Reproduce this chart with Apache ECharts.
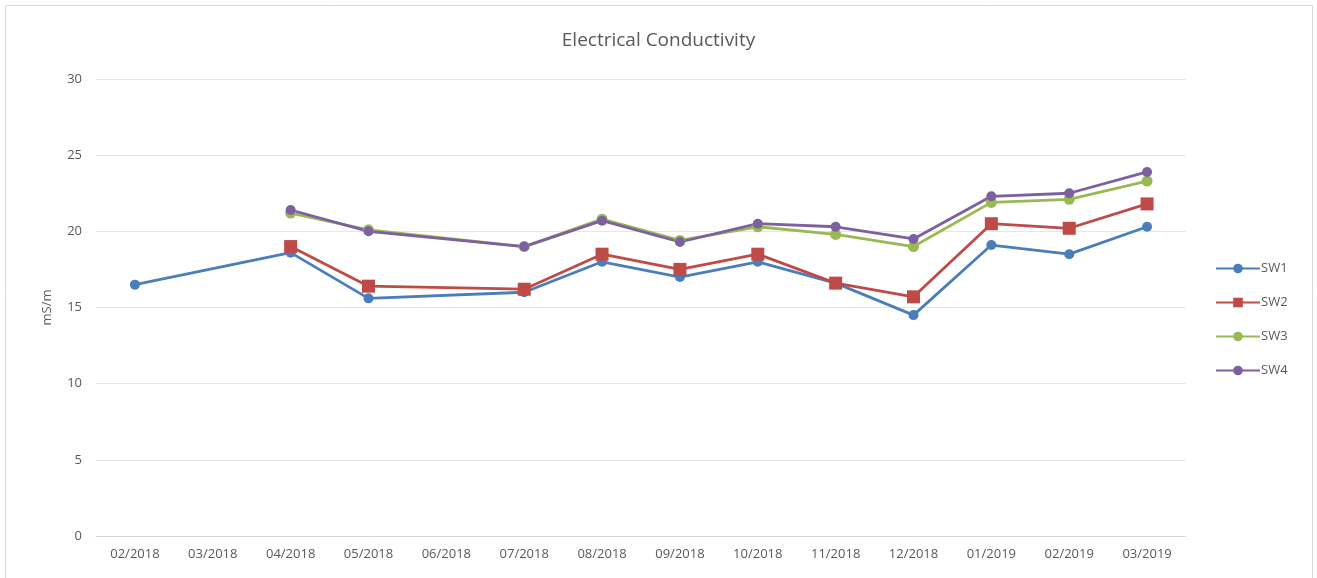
<!DOCTYPE html>
<html>
<head>
<meta charset="utf-8">
<script src="https://cdn.jsdelivr.net/npm/echarts@6/dist/echarts.min.js"></script>
<style>
html,body{margin:0;padding:0;background:#fff;}
#c{width:1317px;height:578px;}
</style>
</head>
<body>
<div id="c"></div>
<script>
const categories = ['02/2018','03/2018','04/2018','05/2018','06/2018','07/2018','08/2018','09/2018','10/2018','11/2018','12/2018','01/2019','02/2019','03/2019'];
const sw1 = [16.5, null, 18.6, 15.6, null, 16.0, 18.0, 17.0, 18.0, 16.6, 14.5, 19.1, 18.5, 20.3];
const sw2 = [null, null, 19.0, 16.4, null, 16.2, 18.5, 17.5, 18.5, 16.6, 15.7, 20.5, 20.2, 21.8];
const sw3 = [null, null, 21.2, 20.1, null, 19.0, 20.8, 19.4, 20.3, 19.8, 19.0, 21.9, 22.1, 23.3];
const sw4 = [null, null, 21.4, 20.0, null, 19.0, 20.7, 19.3, 20.5, 20.3, 19.5, 22.3, 22.5, 23.9];
const yTicks = [0, 5, 10, 15, 20, 25, 30];

const font = '"Open Sans", "Liberation Sans", sans-serif';
const chart = echarts.init(document.getElementById('c'), null, {renderer: 'canvas'});

function mk(name, data, color, symbol, size) {
  return {
    name: name, type: 'line', data: data, connectNulls: true,
    symbol: symbol, symbolSize: size,
    lineStyle: {color: color, width: 2.8},
    itemStyle: {color: color},
    emphasis: {disabled: true},
    animation: false
  };
}

chart.setOption({
  animation: false,
  title: {
    text: 'Electrical Conductivity', left: 'center', top: 26,
    textStyle: {fontFamily: font, fontSize: 19, fontWeight: 'normal', color: '#595959'}
  },
  graphic: [{
    type: 'rect', shape: {x: 5.5, y: 5.5, width: 1307, height: 590},
    style: {fill: 'none', stroke: '#d9d9d9', lineWidth: 1}, silent: true, z: -1
  }],
  legend: {
    orient: 'vertical', left: 1210, top: 257, itemGap: 21,
    itemWidth: 44, itemHeight: 12,
    textStyle: {fontFamily: font, fontSize: 13, color: '#595959', padding: [0,0,0,-4]},
    data: ['SW1','SW2','SW3','SW4']
  },
  grid: {left: 96, right: 131, top: 79, bottom: 42, containLabel: false},
  xAxis: {
    type: 'category', data: categories, boundaryGap: true,
    axisLine: {lineStyle: {color: '#d9d9d9'}},
    axisTick: {show: false},
    axisLabel: {fontFamily: font, fontSize: 13, color: '#595959', margin: 12, interval: 0}
  },
  yAxis: {
    type: 'value', min: yTicks[0], max: yTicks[yTicks.length-1], interval: 5,
    name: 'mS/m', nameLocation: 'middle', nameGap: 42,
    nameTextStyle: {fontFamily: font, fontSize: 13, color: '#595959'},
    axisLine: {show: false}, axisTick: {show: false},
    axisLabel: {fontFamily: font, fontSize: 13, color: '#595959', margin: 14},
    splitLine: {lineStyle: {color: '#e6e6e6'}}
  },
  series: [
    mk('SW1', sw1, '#4A7EBB', 'circle', 10),
    mk('SW2', sw2, '#BE4B48', 'rect', 13),
    mk('SW3', sw3, '#98B954', 'circle', 11),
    mk('SW4', sw4, '#7D60A0', 'circle', 10)
  ]
});
</script>
</body>
</html>
